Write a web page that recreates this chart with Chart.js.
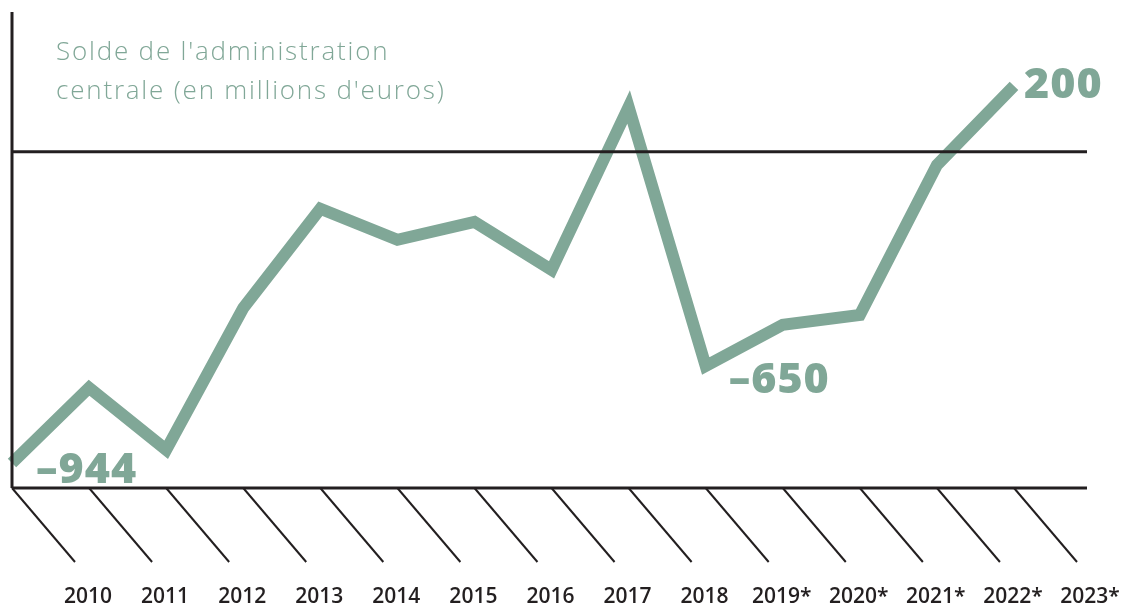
<!DOCTYPE html>
<html>
<head>
<meta charset="utf-8">
<script src="https://cdn.jsdelivr.net/npm/chart.js@4"></script>
<style>
  html, body { margin: 0; padding: 0; background: #fff; }
  #wrap { width: 1122px; height: 609px; position: relative; }
</style>
</head>
<body>
<div id="wrap"><canvas id="soldeChart"></canvas></div>
<script>
const years = ['2010', '2011', '2012', '2013', '2014', '2015', '2016', '2017', '2018', '2019*', '2020*', '2021*', '2022*', '2023*'];
const solde = [-944, -716, -904, -474, -173, -267, -213, -358, 136, -650, -525, -495, -40, 200];
// points that carry a value label, and where the text sits relative to the point
const labelled = [0, 9, 13];
const labelShift = [[24, 20], [23, 27], [10, 12]];

const green = '#80a797';
const ink = '#231f20';

const frame = {
    id: 'frame',
    afterDatasetsDraw(chart) {
        const ctx = chart.ctx;
        const x = chart.scales.x;
        const y = chart.scales.y;
        const area = chart.chartArea;
        const zero = y.getPixelForValue(0);
        const right = area.right + 73;

        ctx.save();
        ctx.strokeStyle = ink;
        ctx.lineWidth = 3;
        ctx.beginPath();
        ctx.moveTo(area.left, area.top);
        ctx.lineTo(area.left, area.bottom);
        ctx.moveTo(area.left, zero);
        ctx.lineTo(right, zero);
        ctx.moveTo(area.left, area.bottom);
        ctx.lineTo(right, area.bottom);
        ctx.stroke();

        // slanted ticks with the year at their foot
        ctx.lineWidth = 2;
        ctx.fillStyle = ink;
        ctx.font = '600 21px "Open Sans"';
        ctx.textAlign = 'center';
        ctx.textBaseline = 'middle';
        years.forEach(function(label, i) {
            const px = x.getPixelForValue(i);
            ctx.beginPath();
            ctx.moveTo(px, area.bottom);
            ctx.lineTo(px + 63, area.bottom + 74);
            ctx.stroke();
            ctx.fillText(label, px + 76, area.bottom + 109);
        });

        // value labels
        const meta = chart.getDatasetMeta(0);
        ctx.fillStyle = green;
        ctx.font = '800 43px "Open Sans"';
        ctx.letterSpacing = '1px';
        ctx.textAlign = 'left';
        ctx.textBaseline = 'alphabetic';
        labelled.forEach(function(i, k) {
            const pt = meta.data[i];
            ctx.fillText(String(solde[i]).replace('-', '–'), pt.x + labelShift[k][0], pt.y + labelShift[k][1]);
        });

        // title
        ctx.font = '300 26px "Open Sans"';
        ctx.letterSpacing = '1.8px';
        ctx.textBaseline = 'middle';
        ctx.fillText("Solde de l'administration", 56, 53);
        ctx.fillText("centrale (en millions d'euros)", 56, 92);
        ctx.restore();
    }
};

const ctxSolde = document.getElementById('soldeChart').getContext('2d');
const soldeChart = new Chart(ctxSolde, {
    type: 'line',
    data: {
        labels: years,
        datasets: [{
            label: 'Solde',
            data: solde,
            borderColor: green,
            borderWidth: 12,
            borderJoinStyle: 'miter',
            borderCapStyle: 'butt',
            pointRadius: 0,
            tension: 0,
            clip: false
        }]
    },
    options: {
        responsive: true,
        maintainAspectRatio: false,
        animation: false,
        layout: { padding: { left: 12, right: 108, top: 12, bottom: 121 } },
        plugins: { legend: { display: false }, tooltip: { enabled: false } },
        scales: {
            x: { display: false, offset: false },
            y: { display: false, min: -1020, max: 424 }
        }
    },
    plugins: [frame]
});
</script>
</body>
</html>
